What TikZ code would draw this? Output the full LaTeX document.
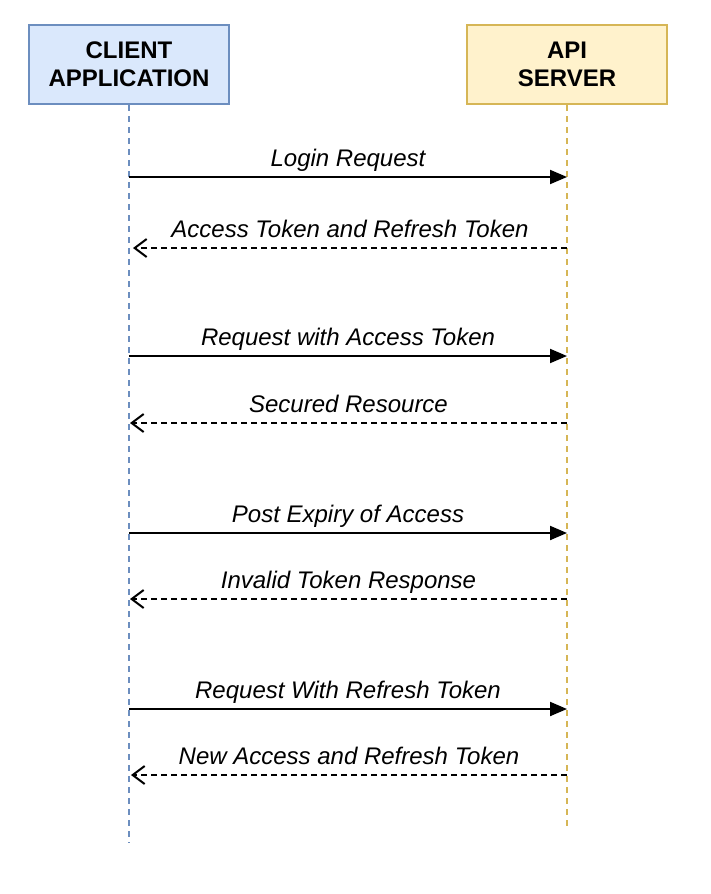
\documentclass[tikz,border=0pt]{standalone}
\usepackage{fontspec}
\setmainfont{Liberation Sans}
\usetikzlibrary{arrows.meta}
\definecolor{cfill}{HTML}{DAE8FC}
\definecolor{cdraw}{HTML}{6C8EBF}
\definecolor{afill}{HTML}{FFF2CC}
\definecolor{adraw}{HTML}{D6B656}
\tikzset{
  x=1pt, y=1pt,
  actor/.style={draw, line width=2pt, minimum width=200pt, minimum height=79pt, inner sep=0pt,
    align=center, font=\fontsize{24}{28}\selectfont\bfseries},
  lifeline/.style={line width=1.5pt, dash pattern=on 6pt off 5pt},
  reqmsg/.style={line width=2pt, -{Triangle[length=17pt,width=14pt]}},
  resmsg/.style={line width=2pt, dash pattern=on 6pt off 4pt, -{Straight Barb[length=12pt,width=18pt]}},
  msglabel/.style={font=\fontsize{24}{28}\selectfont\itshape, anchor=base, inner sep=0pt}
}
\begin{document}
\begin{tikzpicture}
\useasboundingbox (0,0) rectangle (710,-894);
\node[actor, fill=cfill, draw=cdraw] (client) at (129,-64.5) {CLIENT\\APPLICATION};
\node[actor, fill=afill, draw=adraw] (api) at (567,-64.5) {API\\SERVER};
\coordinate (clientend) at (129,-843);
\coordinate (apiend) at (567,-830);
\draw[lifeline, draw=cdraw] (client.south) -- (clientend);
\draw[lifeline, draw=adraw] (api.south) -- (apiend);
% messages
\foreach \i/\y in {1/177,2/248,3/356,4/423,5/533,6/599,7/709,8/775}{
  \coordinate (c\i) at (129,-\y);
  \coordinate (a\i) at (567,-\y);
}
\draw[reqmsg] (c1) -- (a1) node[msglabel, pos=0.5, yshift=11pt] (l1) {Login Request};
\draw[resmsg] (a2) -- ([xshift=4pt]c2) node[msglabel, pos=0.5, yshift=11pt] (l2) {Access Token and Refresh Token};
\draw[reqmsg] (c3) -- (a3) node[msglabel, pos=0.5, yshift=11pt] (l3) {Request with Access Token};
\draw[resmsg] (a4) -- ([xshift=1pt]c4) node[msglabel, pos=0.5, yshift=11pt] (l4) {Secured Resource};
\draw[reqmsg] (c5) -- (a5) node[msglabel, pos=0.5, yshift=11pt] (l5) {Post Expiry of Access};
\draw[resmsg] (a6) -- ([xshift=1pt]c6) node[msglabel, pos=0.5, yshift=11pt] (l6) {Invalid Token Response};
\draw[reqmsg] (c7) -- (a7) node[msglabel, pos=0.5, yshift=11pt] (l7) {Request With Refresh Token};
\draw[resmsg] (a8) -- ([xshift=2pt]c8) node[msglabel, pos=0.5, yshift=11pt] (l8) {New Access and Refresh Token};
\end{tikzpicture}
\end{document}
